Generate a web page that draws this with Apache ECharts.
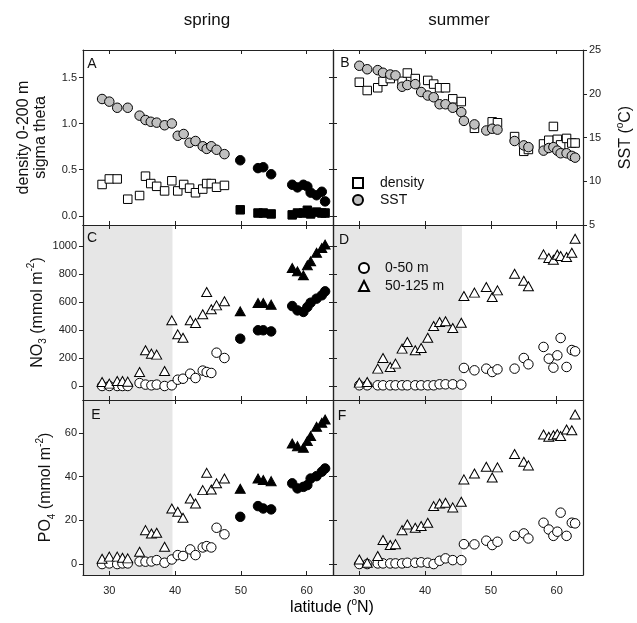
<!DOCTYPE html>
<html>
<head>
<meta charset="utf-8">
<script src="https://cdn.jsdelivr.net/npm/echarts@6/dist/echarts.min.js"></script>
<style>
html, body { margin: 0; padding: 0; background: #fff; }
#main { width: 637px; height: 623px; }
</style>
</head>
<body>
<div id="main"></div>
<script>
// latitudes of the stations
var latSpringA = [28.9, 30.0, 31.2, 32.8, 34.6, 35.5, 36.3, 37.2, 38.4, 39.5, 40.4, 41.3, 42.2, 43.1, 44.2, 44.8, 45.5, 46.3, 47.5];
var latSpring = [28.9, 30.0, 31.2, 32.0, 32.8, 34.6, 35.5, 36.4, 37.2, 38.4, 39.5, 40.4, 41.2, 42.3, 43.1, 44.2, 44.8, 45.5, 46.3, 47.5];
var latSpringN = [49.9, 52.6, 53.4, 54.6, 57.8, 58.6, 59.5, 60.1, 60.6, 61.5, 62.3, 62.8];
var latSummer = [30.0, 31.2, 32.8, 33.6, 34.7, 35.5, 36.5, 37.3, 38.5, 39.4, 40.4, 41.3, 42.2, 43.1, 44.2, 45.5, 45.9, 47.5, 49.3, 50.2, 51.0, 53.6, 55.0, 55.7, 58.0, 58.8, 59.5, 60.1, 60.6, 61.5, 62.3, 62.8];
var latSummerDens = [30.0, 31.2, 32.8, 33.6, 34.7, 36.5, 37.3, 38.5, 40.4, 41.3, 42.2, 43.1, 44.2, 45.5, 47.5, 50.2, 51.0, 53.6, 55.0, 55.7, 58.0, 58.8, 59.5, 60.1, 60.6, 61.5, 62.3, 62.8];

// A / B : density (sigma theta) and SST
var densSpring = [0.34, 0.40, 0.40, 0.18, 0.22, 0.43, 0.35, 0.32, 0.27, 0.38, 0.27, 0.34, 0.30, 0.25, 0.29, 0.35, 0.35, 0.31, 0.33];
var densSpringN = [0.065, 0.03, 0.03, 0.02, 0.01, 0.03, 0.03, 0.06, 0.02, 0.04, 0.03, 0.03];
var sstSpring = [19.4, 19.1, 18.4, 18.4, 17.5, 17.0, 16.8, 16.7, 16.4, 16.6, 15.2, 15.4, 14.4, 14.6, 14.0, 13.7, 14.0, 13.6, 13.1];
var sstSpringN = [12.4, 11.5, 11.6, 10.8, 9.6, 9.3, 9.6, 9.4, 8.7, 8.4, 8.8, 7.7];
var densSummer = [1.45, 1.36, 1.39, 1.46, 1.49, 1.46, 1.55, 1.49, 1.47, 1.43, 1.39, 1.39, 1.27, 1.24, 0.95, 1.02, 1.01, 0.86, 0.70, 0.72, 0.78, 0.82, 0.97, 0.83, 0.77, 0.84, 0.79, 0.79];
var sstSummer = [23.2, 22.8, 22.7, 22.4, 22.2, 22.1, 20.8, 21.0, 21.1, 20.2, 19.8, 19.6, 18.8, 18.8, 18.4, 17.9, 16.9, 16.5, 15.8, 16.0, 15.9, 14.6, 14.1, 13.9, 13.5, 13.8, 13.9, 13.5, 13.2, 13.2, 12.9, 12.7];

// C / D : NO3
var no3SpringUp = [0, 0, 0, 0, 0, 21, 10, 5, 10, 0, 5, 45, 52, 88, 57, 110, 100, 93, 238, 200];
var no3SpringLo = [29, 17, 36, 36, 31, 100, 255, 231, 224, 107, 469, 369, 345, 469, 450, 512, 671, 548, 576, 605];
var no3SpringNUp = [338, 398, 398, 390, 571, 540, 529, 564, 595, 624, 648, 676];
var no3SpringNLo = [533, 593, 593, 581, 843, 819, 790, 862, 890, 952, 986, 1010];
var no3SummerUp = [5, 5, 5, 5, 5, 5, 5, 5, 5, 5, 5, 5, 12, 12, 12, 10, 129, 112, 124, 100, 119, 124, 200, 155, 279, 195, 131, 219, 343, 136, 257, 248];
var no3SummerLo = [24, 29, 124, 200, 136, 160, 267, 314, 255, 271, 345, 429, 457, 462, 414, 452, 643, 667, 707, 636, 683, 802, 752, 712, 940, 914, 902, 938, 929, 921, 952, 1052];

// E / F : PO4
var po4SpringUp = [0, 0.3, 0, 0.3, 0.3, 1.2, 1.1, 1.2, 1.8, 0.6, 2.1, 4.1, 3.7, 6.7, 4.1, 7.6, 8.2, 7.6, 16.6, 13.6];
var po4SpringLo = [2.4, 3.4, 3.4, 2.9, 2.6, 5.6, 15.5, 14.0, 14.3, 7.9, 25.4, 23.9, 21.2, 30.0, 27.7, 33.8, 41.7, 34.1, 36.9, 39.1];
var po4SpringNUp = [21.6, 26.5, 25.4, 25.0, 36.9, 34.6, 35.3, 36.1, 39.1, 40.2, 42.2, 43.7];
var po4SpringNLo = [34.4, 39.1, 38.4, 37.9, 55.1, 53.9, 53.2, 56.2, 58.5, 62.8, 64.6, 66.1];
var po4SummerUp = [0, 0, 0.3, 0.3, 0.3, 0.3, 0.3, 0.6, 0.6, 0.8, 0.6, 0, 1.5, 2.6, 1.8, 1.8, 9.1, 9.0, 10.7, 8.7, 10.2, 12.9, 14.0, 11.7, 18.9, 15.8, 12.9, 14.8, 23.5, 12.9, 18.9, 18.6];
var po4SummerLo = [2.1, 0.6, 3.7, 11.0, 8.7, 9.1, 15.5, 18.1, 16.6, 17.4, 18.9, 26.5, 27.7, 28.0, 25.9, 28.5, 38.7, 41.4, 44.5, 39.6, 44.2, 50.3, 46.8, 45.1, 59.2, 58.2, 58.9, 59.4, 58.5, 61.5, 61.2, 68.4];

// tick labels and shaded ranges
var latTicks = [30, 40, 50, 60];
var densTicks = [0, 0.5, 1.0, 1.5];
var sstTicks = [5, 10, 15, 20, 25];
var no3Ticks = [0, 200, 400, 600, 800, 1000];
var po4Ticks = [0, 20, 40, 60];
var shadeSpring = [26, 39.6];
var shadeSummer = [26, 45.6];

var FONT = 'Liberation Sans';
var LINE = '#222';

function pts(lat, val) {
	var out = [];
	for (var i = 0; i < lat.length; i++) {
		out.push([lat[i], val[i]]);
	}
	return out;
}

var richName = {
	a: { fontSize: 16, lineHeight: 22, fontFamily: FONT, color: '#111' },
	b: { fontSize: 16, lineHeight: 17, fontFamily: FONT, color: '#111' },
	sup: { fontSize: 10, lineHeight: 10, fontFamily: FONT, color: '#111', verticalAlign: 'top' },
	sub: { fontSize: 10, lineHeight: 10, fontFamily: FONT, color: '#111', verticalAlign: 'bottom' }
};

var grids = [];
var tops = [50, 225, 400];
for (var r = 0; r < 3; r++) {
	grids.push({ left: 83, top: tops[r], width: 250, height: 175 });
	grids.push({ left: 333, top: tops[r], width: 250, height: 175 });
}

var xAxes = [];
for (var g = 0; g < 6; g++) {
	var showLab = g >= 4;
	xAxes.push({
		type: 'value', gridIndex: g, min: 26, max: 64, position: 'bottom', z: 5,
		axisLine: { show: true, onZero: false, lineStyle: { color: LINE, width: 1.2 } },
		axisTick: { show: true, inside: true, length: 4, customValues: latTicks, lineStyle: { color: LINE } },
		axisLabel: { show: showLab, customValues: latTicks, margin: 10, fontSize: 11, color: '#222', fontFamily: FONT },
		splitLine: { show: false }
	});
	xAxes.push({
		type: 'value', gridIndex: g, min: 26, max: 64, position: 'top', z: 5,
		axisLine: { show: true, onZero: false, lineStyle: { color: LINE, width: 1.2 } },
		axisTick: { show: true, inside: true, length: 4, customValues: latTicks, lineStyle: { color: LINE } },
		axisLabel: { show: false },
		splitLine: { show: false }
	});
}

var fmtInt = function(v) { return String(v); };
var fmt1 = function(v) { return v.toFixed(1); };

function yAx(g, pos, min, max, ticks, mode, fmt) {
	return {
		type: 'value', gridIndex: g, min: min, max: max, position: pos, z: 5,
		show: mode != 'hidden',
		axisLine: { show: true, onZero: false, lineStyle: { color: LINE, width: 1.2 } },
		axisTick: { show: mode != 'none', inside: mode == 'inside', length: 4, customValues: ticks, lineStyle: { color: LINE } },
		axisLabel: { show: mode == 'label', customValues: ticks, margin: 6, fontSize: 11, color: '#222', fontFamily: FONT, formatter: fmt || fmtInt },
		splitLine: { show: false }
	};
}

var yAxes = [
	yAx(0, 'left', -0.1, 1.8, densTicks, 'label', fmt1),      // 0 A density
	yAx(0, 'right', -0.1, 1.8, densTicks, 'inside'),          // 1 A mirror
	yAx(0, 'right', 5, 25, sstTicks, 'hidden'),               // 2 A SST
	yAx(1, 'left', -0.1, 1.8, densTicks, 'inside'),           // 3 B density
	yAx(1, 'right', 5, 25, sstTicks, 'label'),                // 4 B SST
	yAx(2, 'left', -100, 1150, no3Ticks, 'label'),            // 5 C
	yAx(2, 'right', -100, 1150, no3Ticks, 'inside'),          // 6 C mirror
	yAx(3, 'left', -100, 1150, no3Ticks, 'inside'),           // 7 D
	yAx(3, 'right', -100, 1150, no3Ticks, 'none'),            // 8 D mirror
	yAx(4, 'left', -5, 75, po4Ticks, 'label'),                // 9 E
	yAx(4, 'right', -5, 75, po4Ticks, 'inside'),              // 10 E mirror
	yAx(5, 'left', -5, 75, po4Ticks, 'inside'),               // 11 F
	yAx(5, 'right', -5, 75, po4Ticks, 'none')                 // 12 F mirror
];

yAxes[0].name = '{b|density 0-200 m}\n{b|sigma theta}';
yAxes[0].nameLocation = 'middle';
yAxes[0].nameGap = 34;
yAxes[0].nameRotate = 90;
yAxes[0].nameTextStyle = { rich: richName };

yAxes[4].name = '{a|SST (}{sup|o}{a|C)}';
yAxes[4].nameLocation = 'middle';
yAxes[4].nameGap = 32;
yAxes[4].nameRotate = 90;
yAxes[4].nameTextStyle = { rich: richName };

yAxes[5].name = '{a|NO}{sub|3}{a| (mmol m}{sup|-2}{a|)}';
yAxes[5].nameLocation = 'middle';
yAxes[5].nameGap = 26;
yAxes[5].nameRotate = 90;
yAxes[5].nameTextStyle = { rich: richName };

yAxes[9].name = '{a|PO}{sub|4}{a| (mmol m}{sup|-2}{a|)}';
yAxes[9].nameLocation = 'middle';
yAxes[9].nameGap = 26;
yAxes[9].nameRotate = 90;
yAxes[9].nameTextStyle = { rich: richName };

function sc(name, xi, yi, data, symbol, size, fill) {
	return {
		type: 'scatter', name: name, xAxisIndex: xi, yAxisIndex: yi,
		data: data, symbol: symbol, symbolSize: size,
		itemStyle: { color: fill, borderColor: '#000', borderWidth: 1, opacity: 1 },
		emphasis: { disabled: true },
		z: 2
	};
}

function shade(xi, yi, range) {
	return {
		type: 'scatter', xAxisIndex: xi, yAxisIndex: yi, data: [], z: 1, silent: true,
		markArea: {
			silent: true,
			itemStyle: { color: '#e6e6e6' },
			data: [[{ xAxis: range[0] }, { xAxis: range[1] }]]
		}
	};
}

var CIR = 9.5, SQ = 8.5, TRI = [10, 9];
var GRAY = '#c0c0c0';

var series = [
	// A
	sc('density', 0, 0, pts(latSpringA, densSpring), 'rect', SQ, '#fff'),
	sc('density north', 0, 0, pts(latSpringN, densSpringN), 'rect', SQ, '#000'),
	sc('SST', 0, 2, pts(latSpringA, sstSpring), 'circle', CIR, GRAY),
	sc('SST north', 0, 2, pts(latSpringN, sstSpringN), 'circle', CIR, '#000'),
	// B
	sc('density', 2, 3, pts(latSummerDens, densSummer), 'rect', SQ, '#fff'),
	sc('SST', 2, 4, pts(latSummer, sstSummer), 'circle', CIR, GRAY),
	// C
	shade(4, 5, shadeSpring),
	sc('0-50 m', 4, 5, pts(latSpring, no3SpringUp), 'circle', CIR, '#fff'),
	sc('50-125 m', 4, 5, pts(latSpring, no3SpringLo), 'triangle', TRI, '#fff'),
	sc('0-50 m north', 4, 5, pts(latSpringN, no3SpringNUp), 'circle', CIR, '#000'),
	sc('50-125 m north', 4, 5, pts(latSpringN, no3SpringNLo), 'triangle', TRI, '#000'),
	// D
	shade(6, 7, shadeSummer),
	sc('0-50 m', 6, 7, pts(latSummer, no3SummerUp), 'circle', CIR, '#fff'),
	sc('50-125 m', 6, 7, pts(latSummer, no3SummerLo), 'triangle', TRI, '#fff'),
	// E
	shade(8, 9, shadeSpring),
	sc('0-50 m', 8, 9, pts(latSpring, po4SpringUp), 'circle', CIR, '#fff'),
	sc('50-125 m', 8, 9, pts(latSpring, po4SpringLo), 'triangle', TRI, '#fff'),
	sc('0-50 m north', 8, 9, pts(latSpringN, po4SpringNUp), 'circle', CIR, '#000'),
	sc('50-125 m north', 8, 9, pts(latSpringN, po4SpringNLo), 'triangle', TRI, '#000'),
	// F
	shade(10, 11, shadeSummer),
	sc('0-50 m', 10, 11, pts(latSummer, po4SummerUp), 'circle', CIR, '#fff'),
	sc('50-125 m', 10, 11, pts(latSummer, po4SummerLo), 'triangle', TRI, '#fff')
];

function letter(t, x, y) {
	return {
		type: 'text', x: x, y: y, z: 10,
		style: { text: t, font: '14px ' + FONT, fill: '#111', textAlign: 'center', textVerticalAlign: 'middle' }
	};
}

var option = {
	animation: false,
	backgroundColor: '#fff',
	grid: grids,
	xAxis: xAxes,
	yAxis: yAxes,
	legend: [{
		data: ['density', 'SST'],
		orient: 'vertical', left: 352, top: 176, padding: 0,
		itemWidth: 10, itemHeight: 10, itemGap: 3,
		selectedMode: false,
		textStyle: { fontSize: 14, fontFamily: FONT, color: '#111', padding: [0, 0, 0, 12] }
	}, {
		data: ['0-50 m', '50-125 m'],
		orient: 'vertical', left: 358, top: 261, padding: 0,
		itemWidth: 10, itemHeight: 10, itemGap: 4,
		selectedMode: false,
		textStyle: { fontSize: 14, fontFamily: FONT, color: '#111', padding: [0, 0, 0, 11] }
	}],
	graphic: [
		{ type: 'text', x: 207, y: 20, style: { text: 'spring', font: '17px ' + FONT, fill: '#111', textAlign: 'center', textVerticalAlign: 'middle' } },
		{ type: 'text', x: 459, y: 20, style: { text: 'summer', font: '17px ' + FONT, fill: '#111', textAlign: 'center', textVerticalAlign: 'middle' } },
		{ type: 'text', x: 332, y: 608, style: { text: '{a|latitude (}{sup|o}{a|N)}', rich: richName, textAlign: 'center', textVerticalAlign: 'middle' } },
		letter('A', 92, 64),
		letter('B', 345, 63),
		letter('C', 92, 238),
		letter('D', 344, 240),
		letter('E', 96, 415),
		letter('F', 342, 416)
	],
	series: series
};

var myChart = echarts.init(document.getElementById('main'));
myChart.setOption(option);
</script>
</body>
</html>
